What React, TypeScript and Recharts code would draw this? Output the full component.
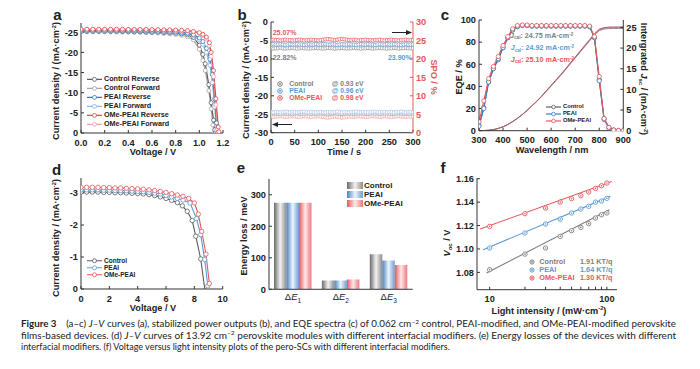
import React from 'react';
import { LineChart, Line, XAxis, YAxis, ComposedChart, Scatter, BarChart, Bar } from 'recharts';

const FONT = '"Liberation Sans", Arial, Helvetica, sans-serif';
const AX = '#333';
const TXT = '#222';
const GRAY_D = '#5e5e5e', GRAY_L = '#a8a8a8', BLUE_D = '#3a7bbf', BLUE_L = '#8ab8e2', RED_D = '#e5484b', RED_L = '#f3a2a3';
const GRAY = '#808080', BLUE = '#5b9bd5', RED = '#e8585a';
const MT = 8, HX = 22;

// ---------- Panel a: J-V curves ----------
const aVFlat = [0, 0.05, 0.1, 0.15, 0.2, 0.25, 0.3, 0.35, 0.4, 0.45, 0.5, 0.55, 0.6, 0.65, 0.7, 0.75, 0.8, 0.85];
const aCtrlRevJFlat = [25.2, 25.2, 25.2, 25.2, 25.2, 25.2, 25.2, 25.15, 25.15, 25.1, 25.1, 25.05, 25.0, 25.0, 24.9, 24.85, 24.75, 24.6];
const aCtrlRevVTail = [0.9, 0.95, 1.0, 1.03, 1.05, 1.08, 1.1, 1.12, 1.13, 1.135];
const aCtrlRevJTail = [24.4, 23.7, 21.8, 19.5, 17.2, 12.0, 7.5, 3.2, 0.8, 0];
const aCtrlFwdJFlat = [25.1, 25.1, 25.1, 25.1, 25.1, 25.1, 25.05, 25.05, 25.0, 25.0, 24.95, 24.9, 24.85, 24.8, 24.7, 24.6, 24.45, 24.25];
const aCtrlFwdVTail = [0.9, 0.95, 1.0, 1.03, 1.05, 1.08, 1.1, 1.115, 1.125];
const aCtrlFwdJTail = [23.9, 23.1, 20.8, 18.0, 15.5, 10.5, 6.0, 2.0, 0];
const aPeaiRevJFlat = [25.45, 25.45, 25.45, 25.45, 25.45, 25.45, 25.45, 25.4, 25.4, 25.4, 25.35, 25.35, 25.3, 25.3, 25.25, 25.2, 25.1, 25.0];
const aPeaiRevVTail = [0.9, 0.95, 1.0, 1.03, 1.06, 1.09, 1.11, 1.13, 1.145, 1.15];
const aPeaiRevJTail = [24.8, 24.4, 23.6, 22.7, 21.0, 18.3, 14.5, 8.5, 2.5, 0];
const aPeaiFwdJFlat = [25.4, 25.4, 25.4, 25.4, 25.4, 25.4, 25.35, 25.35, 25.35, 25.3, 25.3, 25.25, 25.2, 25.2, 25.1, 25.05, 24.95, 24.85];
const aPeaiFwdVTail = [0.9, 0.95, 1.0, 1.03, 1.06, 1.09, 1.11, 1.13, 1.145];
const aPeaiFwdJTail = [24.6, 24.1, 23.1, 22.0, 20.0, 16.8, 12.5, 6.5, 0.5];
const aOmeRevJFlat = [25.75, 25.75, 25.75, 25.75, 25.75, 25.75, 25.75, 25.75, 25.7, 25.7, 25.7, 25.7, 25.65, 25.65, 25.6, 25.6, 25.55, 25.5];
const aOmeRevVTail = [0.9, 0.95, 1.0, 1.03, 1.06, 1.085, 1.1, 1.12, 1.14, 1.16, 1.165];
const aOmeRevJTail = [25.4, 25.2, 24.9, 24.5, 23.8, 22.4, 20.0, 15.5, 8.5, 1.5, 0.3];
const aOmeFwdJFlat = [25.7, 25.7, 25.7, 25.7, 25.7, 25.7, 25.7, 25.7, 25.65, 25.65, 25.65, 25.6, 25.6, 25.55, 25.55, 25.5, 25.45, 25.4];
const aOmeFwdVTail = [0.9, 0.95, 1.0, 1.03, 1.06, 1.085, 1.1, 1.12, 1.14, 1.155];
const aOmeFwdJTail = [25.3, 25.1, 24.7, 24.2, 23.3, 21.7, 19.0, 14.0, 7.0, 1.0];
const aXTicks = [0, 0.2, 0.4, 0.6, 0.8, 1.0, 1.2];
const aYTicks = [-25, -20, -15, -10, -5, 0];

// ---------- Panel b: stabilized outputs ----------
const bTime = [0, 5, 10, 15, 20, 25, 30, 35, 40, 45, 50, 55, 60, 65, 70, 75, 80, 85, 90, 95, 100, 105, 110, 115, 120, 125, 130, 135, 140, 145, 150, 155, 160, 165, 170, 175, 180, 185, 190, 195, 200, 205, 210, 215, 220, 225, 230, 235, 240, 245, 250, 255, 260, 265, 270, 275, 280, 285, 290, 295, 300];
const bSpoOme = [25.1, 25.2, 25.1, 25.1, 25.0, 25.1, 25.2, 25.1, 25.1, 25.0, 25.1, 25.1, 25.2, 25.1, 25.0, 25.1, 25.1, 25.2, 25.1, 25.1, 25.0, 25.1, 25.2, 25.3, 25.4, 25.3, 25.2, 25.1, 25.2, 25.3, 25.4, 25.3, 25.2, 25.1, 25.1, 25.2, 25.1, 25.0, 25.1, 25.1, 25.2, 25.1, 25.1, 25.0, 25.1, 25.1, 25.2, 25.1, 25.0, 25.1, 25.1, 25.2, 25.1, 25.1, 25.0, 25.1, 25.1, 25.2, 25.1, 25.1, 25.1];
const bSpoPeai = [23.9, 24.0, 23.9, 23.9, 24.0, 23.9, 23.8, 23.9, 24.0, 23.9, 23.9, 24.0, 23.9, 23.9, 23.8, 23.9, 24.0, 23.9, 23.9, 24.0, 23.9, 23.9, 24.0, 24.0, 23.9, 23.9, 24.0, 23.9, 23.8, 23.9, 24.0, 23.9, 23.9, 24.0, 23.9, 23.9, 23.8, 23.9, 24.0, 23.9, 23.9, 24.0, 23.9, 23.9, 23.8, 23.9, 24.0, 23.9, 23.9, 24.0, 23.9, 23.9, 24.0, 23.9, 23.9, 23.8, 23.9, 24.0, 23.9, 23.9, 23.9];
const bSpoCtrl = [22.9, 22.8, 22.9, 22.9, 23.0, 22.9, 22.8, 22.9, 22.9, 23.0, 22.9, 22.8, 22.9, 23.0, 22.9, 22.9, 22.8, 22.9, 22.9, 23.0, 22.9, 22.9, 22.8, 22.9, 23.0, 22.9, 22.9, 22.8, 22.9, 22.9, 23.0, 22.9, 22.8, 22.9, 22.9, 23.0, 22.9, 22.9, 22.8, 22.9, 22.9, 23.0, 22.9, 22.8, 22.9, 22.9, 23.0, 22.9, 22.9, 22.8, 22.9, 22.9, 23.0, 22.9, 22.8, 22.9, 22.9, 23.0, 22.9, 22.9, 22.9];
const bJOme = [-25.6, -25.7, -25.6, -25.6, -25.5, -25.6, -25.7, -25.6, -25.6, -25.5, -25.6, -25.6, -25.7, -25.6, -25.5, -25.6, -25.6, -25.7, -25.6, -25.6, -25.5, -25.6, -25.7, -25.8, -25.9, -25.8, -25.7, -25.6, -25.7, -25.8, -25.9, -25.8, -25.7, -25.6, -25.6, -25.7, -25.6, -25.5, -25.6, -25.6, -25.7, -25.6, -25.6, -25.5, -25.6, -25.6, -25.7, -25.6, -25.5, -25.6, -25.6, -25.7, -25.6, -25.6, -25.5, -25.6, -25.6, -25.7, -25.6, -25.6, -25.6];
const bJPeai = [-24.4, -24.5, -24.4, -24.4, -24.5, -24.4, -24.3, -24.4, -24.5, -24.4, -24.4, -24.5, -24.4, -24.4, -24.3, -24.4, -24.5, -24.4, -24.4, -24.5, -24.4, -24.4, -24.5, -24.5, -24.4, -24.4, -24.5, -24.4, -24.3, -24.4, -24.5, -24.4, -24.4, -24.5, -24.4, -24.4, -24.3, -24.4, -24.5, -24.4, -24.4, -24.5, -24.4, -24.4, -24.3, -24.4, -24.5, -24.4, -24.4, -24.5, -24.4, -24.4, -24.5, -24.4, -24.4, -24.3, -24.4, -24.5, -24.4, -24.4, -24.4];
const bJCtrl = [-24.8, -24.7, -24.8, -24.8, -24.9, -24.8, -24.7, -24.8, -24.8, -24.9, -24.8, -24.7, -24.8, -24.9, -24.8, -24.8, -24.7, -24.8, -24.8, -24.9, -24.8, -24.8, -24.7, -24.8, -24.9, -24.8, -24.8, -24.7, -24.8, -24.8, -24.9, -24.8, -24.7, -24.8, -24.8, -24.9, -24.8, -24.8, -24.7, -24.8, -24.8, -24.9, -24.8, -24.7, -24.8, -24.8, -24.9, -24.8, -24.8, -24.7, -24.8, -24.8, -24.9, -24.8, -24.7, -24.8, -24.8, -24.9, -24.8, -24.8, -24.8];
const bXTicks = [0, 50, 100, 150, 200, 250, 300];
const bYTicks = [-30, -25, -20, -15, -10, -5, 0];
const bY2Ticks = [0, 5, 10, 15, 20, 25, 30];

// ---------- Panel c: EQE ----------
const cWave = [300, 320, 340, 360, 380, 400, 420, 440, 460, 480, 500, 520, 540, 560, 580, 600, 620, 640, 660, 680, 700, 720, 740, 760, 780, 800, 820, 840, 860, 880, 900];
const cEqeCtrl = [5, 21, 44, 56, 64, 75, 84, 91, 94, 95, 95, 94.5, 94.5, 94.5, 94.5, 94.5, 94.5, 94.5, 94.5, 94.5, 94.5, 94.5, 94.5, 94, 84, 46, 11, 3, 0.6, 0.2, 0];
const cEqePeai = [4, 20, 44, 56, 65, 75, 84, 91, 94, 95, 95, 94.5, 94.5, 94.5, 94.5, 94.5, 94.5, 94.5, 94.5, 94.5, 94.5, 94.5, 94.5, 94, 84, 45, 10, 2.5, 0.5, 0.2, 0];
const cEqeOme = [8, 27, 47, 58, 67, 77, 85, 92, 95, 95.5, 95.5, 95, 95, 95, 95, 95, 95, 95, 95, 95, 95, 95, 95, 94.5, 85, 49, 11, 3, 0.6, 0.2, 0];
const cJscCtrl = [0, 0.03, 0.1, 0.25, 0.55, 0.94, 1.49, 2.18, 2.98, 3.87, 4.87, 5.96, 7.05, 8.24, 9.53, 10.82, 12.11, 13.4, 14.8, 16.19, 17.58, 18.97, 20.36, 21.75, 23.14, 24.23, 24.62, 24.72, 24.75, 24.75, 24.75];
const cJscPeai = [0, 0.03, 0.1, 0.25, 0.55, 0.95, 1.5, 2.2, 3.0, 3.9, 4.9, 6.0, 7.1, 8.3, 9.6, 10.9, 12.2, 13.5, 14.9, 16.3, 17.7, 19.1, 20.5, 21.9, 23.3, 24.4, 24.8, 24.9, 24.92, 24.92, 24.92];
const cJscOme = [0, 0.03, 0.1, 0.25, 0.55, 0.96, 1.51, 2.22, 3.02, 3.93, 4.93, 6.04, 7.15, 8.36, 9.67, 10.98, 12.29, 13.6, 15.0, 16.41, 17.82, 19.23, 20.64, 22.05, 23.46, 24.57, 24.97, 25.07, 25.1, 25.1, 25.1];
const cXTicks = [300, 400, 500, 600, 700, 800, 900];
const cYTicks = [0, 20, 40, 60, 80, 100];
const cY2Ticks = [0, 5, 10, 15, 20, 25];

// ---------- Panel d: module J-V ----------
const dVFlat = [0, 0.4, 0.8, 1.2, 1.6, 2.0, 2.4, 2.8, 3.2, 3.6, 4.0, 4.4, 4.8, 5.2, 5.6, 6.0, 6.4, 6.8];
const dCtrlJFlat = [3.03, 3.03, 3.03, 3.03, 3.02, 3.02, 3.01, 3.01, 3.0, 2.99, 2.98, 2.97, 2.95, 2.92, 2.88, 2.83, 2.77, 2.7];
const dCtrlVTail = [7.15, 7.5, 7.85, 8.1, 8.45, 8.75];
const dCtrlJTail = [2.6, 2.43, 2.14, 1.65, 0.94, -0.05];
const dPeaiJFlat = [3.1, 3.1, 3.1, 3.1, 3.09, 3.09, 3.08, 3.08, 3.07, 3.06, 3.05, 3.04, 3.02, 3.0, 2.97, 2.93, 2.88, 2.83];
const dPeaiVTail = [7.2, 7.7, 8.15, 8.45, 8.73, 8.95];
const dPeaiJTail = [2.78, 2.69, 2.2, 1.7, 0.92, 0.1];
const dOmeJFlat = [3.18, 3.18, 3.18, 3.18, 3.17, 3.17, 3.16, 3.16, 3.15, 3.14, 3.13, 3.12, 3.1, 3.08, 3.05, 3.02, 2.98, 2.94];
const dOmeVTail = [7.2, 7.6, 8.0, 8.28, 8.52, 8.82, 9.06];
const dOmeJTail = [2.9, 2.83, 2.69, 2.34, 1.8, 1.09, 0.17];
const dXTicks = [0, 2, 4, 6, 8, 10];
const dYTicks = [-3, -2, -1, 0];

// ---------- Panel e: energy losses ----------
const eCats = ['1', '2', '3'];
const eCtrl = [275, 28, 111];
const ePeai = [275, 28, 91];
const eOme = [275, 31, 77];
const eYTicks = [0, 100, 200, 300];

// ---------- Panel f: Voc vs light intensity ----------
const fIntensity = [10, 20, 30, 40, 50, 60, 70, 80, 90, 100];
const fCtrl = [1.0823, 1.0956, 1.1008, 1.1107, 1.1156, 1.1184, 1.1216, 1.1264, 1.1292, 1.1307];
const fPeai = [1.1008, 1.1136, 1.1213, 1.1255, 1.1307, 1.1341, 1.1364, 1.14, 1.1409, 1.1432];
const fOme = [1.1193, 1.1301, 1.1349, 1.14, 1.1429, 1.1455, 1.1486, 1.1517, 1.154, 1.1563];
const fCtrlFitX = [9.4, 105];
const fCtrlFitY = [1.0795, 1.1335];
const fPeaiFitX = [8.8, 106.7];
const fPeaiFitY = [1.0994, 1.1449];
const fOmeFitX = [8.3, 110];
const fOmeFitY = [1.117, 1.1577];
const fXTicks = [10, 20, 30, 40, 50, 60, 70, 80, 90, 100];
const fYTicks = [1.08, 1.1, 1.12, 1.14, 1.16];

// ---------- helpers ----------
const tickStyle = { fontSize: 9.2, fontWeight: 700, fill: TXT, fontFamily: FONT };
const xAxisCommon = { axisLine: { stroke: AX }, tickLine: { stroke: AX }, tickSize: -3, tickMargin: 9, tick: tickStyle, height: HX, interval: 0 as const, allowDataOverflow: true };
const yAxisCommon = { axisLine: { stroke: AX }, tickLine: { stroke: AX }, tickSize: -3, tickMargin: 6, tick: tickStyle, interval: 0 as const, allowDataOverflow: true };

const frameX = () => (
  <XAxis xAxisId="fx" orientation="top" type="number" domain={[0, 1]} height={0} tick={false} tickLine={false} axisLine={{ stroke: AX }} />
);
const frameY = () => (
  <YAxis yAxisId="fy" orientation="right" type="number" domain={[0, 1]} width={0} tick={false} tickLine={false} axisLine={{ stroke: AX }} />
);

function box(x0: number, y0: number, x1: number, y1: number, wl: number, wr: number, mr: number) {
  return { left: x0 - wl, top: y0 - MT, width: wl + (x1 - x0) + wr + mr, height: MT + (y1 - y0) + HX, mr };
}

const zip = (xs: number[], ys: number[], sign = 1) => xs.map((x, i) => ({ x, y: sign * ys[i] }));

function Sup({ children }: any) {
  return <span style={{ fontSize: '0.62em', position: 'relative', top: '-0.55em' }}>{children}</span>;
}
function Sub({ children }: any) {
  return <span style={{ fontSize: '0.65em', position: 'relative', top: '0.3em' }}>{children}</span>;
}

function T({ x, y, rot = 0, size = 9.5, bold = true, color = TXT, anchor = 'c', children, font = FONT, lh = 1 }: any) {
  const tx = anchor === 'c' ? '-50%' : anchor === 'l' ? '0%' : '-100%';
  return (
    <div style={{ position: 'absolute', left: x, top: y, transform: `translate(${tx},-50%) rotate(${rot}deg)`, whiteSpace: 'nowrap', fontFamily: font, fontSize: size, fontWeight: bold ? 700 : 400, color, lineHeight: lh }}>
      {children}
    </div>
  );
}

function LegLine({ x, y, color, text, size, w = 15, r = 2 }: any) {
  return (
    <div style={{ position: 'absolute', left: x, top: y, transform: 'translateY(-50%)', display: 'flex', alignItems: 'center', whiteSpace: 'nowrap', fontFamily: FONT, fontWeight: 700, fontSize: size, lineHeight: 1, color: TXT }}>
      <svg width={w} height={6} style={{ display: 'block' }}>
        <line x1={0} y1={3} x2={w} y2={3} stroke={color} strokeWidth={1.2} />
        <circle cx={w / 2} cy={3} r={r} fill="#fff" stroke={color} strokeWidth={0.8} />
      </svg>
      <span style={{ marginLeft: 2 }}>{text}</span>
    </div>
  );
}

function Dot({ x, y, color, r = 2.3 }: any) {
  return (
    <svg width={8} height={8} style={{ position: 'absolute', left: x - 4, top: y - 4 }}>
      <circle cx={4} cy={4} r={r} fill="#fff" stroke={color} strokeWidth={1} />
      <circle cx={4} cy={4} r={0.9} fill={color} />
    </svg>
  );
}

const dotStyle = (c: string, r = 2) => ({ r, fill: '#fff', stroke: c, strokeWidth: 0.8 });

// ---------- panels ----------
function PanelA() {
  const b = box(81, 23, 223, 133, 30, 0, 12);
  const series = [
    { c: GRAY_L, d: zip([...aVFlat, ...aCtrlFwdVTail], [...aCtrlFwdJFlat, ...aCtrlFwdJTail], -1) },
    { c: GRAY_D, d: zip([...aVFlat, ...aCtrlRevVTail], [...aCtrlRevJFlat, ...aCtrlRevJTail], -1) },
    { c: BLUE_L, d: zip([...aVFlat, ...aPeaiFwdVTail], [...aPeaiFwdJFlat, ...aPeaiFwdJTail], -1) },
    { c: BLUE_D, d: zip([...aVFlat, ...aPeaiRevVTail], [...aPeaiRevJFlat, ...aPeaiRevJTail], -1) },
    { c: RED_L, d: zip([...aVFlat, ...aOmeFwdVTail], [...aOmeFwdJFlat, ...aOmeFwdJTail], -1) },
    { c: RED_D, d: zip([...aVFlat, ...aOmeRevVTail], [...aOmeRevJFlat, ...aOmeRevJTail], -1) },
  ];
  return (
    <div style={{ position: 'absolute', left: b.left, top: b.top }}>
      <LineChart width={b.width} height={b.height} margin={{ top: MT, right: b.mr, bottom: 0, left: 0 }}>
        <XAxis dataKey="x" type="number" domain={[0, 1.2]} ticks={aXTicks} tickFormatter={(v: number) => v.toFixed(1)} {...xAxisCommon} />
        <YAxis dataKey="y" type="number" domain={[-27.3, 0]} reversed ticks={aYTicks} width={30} {...yAxisCommon} />
        {frameX()}
        {frameY()}
        {series.map((s, i) => (
          <Line key={i} data={s.d} dataKey="y" stroke={s.c} strokeWidth={1.2} dot={dotStyle(s.c)} activeDot={false} isAnimationActive={false} />
        ))}
      </LineChart>
    </div>
  );
}

function PanelB() {
  const b = box(270.7, 22, 412.7, 132.7, 30, 22, 3);
  const mk = (ys: number[]) => bTime.map((t, i) => ({ x: t, y: ys[i] }));
  const cur = [
    { c: '#f1a9aa', d: mk(bJOme) },
    { c: '#b3b3b3', d: mk(bJCtrl) },
    { c: '#a9cbeb', d: mk(bJPeai) },
  ];
  const spo = [
    { c: '#9a9a9a', d: mk(bSpoCtrl) },
    { c: '#74a7d8', d: mk(bSpoPeai) },
    { c: '#e8686a', d: mk(bSpoOme) },
  ];
  return (
    <div style={{ position: 'absolute', left: b.left, top: b.top }}>
      <LineChart width={b.width} height={b.height} margin={{ top: MT, right: b.mr, bottom: 0, left: 0 }}>
        <XAxis dataKey="x" type="number" domain={[0, 300]} ticks={bXTicks} {...xAxisCommon} />
        <YAxis yAxisId="l" dataKey="y" type="number" domain={[-30, 0]} ticks={bYTicks} width={30} {...yAxisCommon} />
        <YAxis yAxisId="r" orientation="right" dataKey="y" type="number" domain={[0, 30]} ticks={bY2Ticks} width={22} {...yAxisCommon} axisLine={{ stroke: RED }} tickLine={{ stroke: RED }} tick={{ ...tickStyle, fill: RED }} />
        {frameX()}
        {cur.map((s, i) => (
          <Line key={'c' + i} yAxisId="l" data={s.d} dataKey="y" stroke={s.c} strokeWidth={0.6} dot={dotStyle(s.c, 1.8)} activeDot={false} isAnimationActive={false} />
        ))}
        {spo.map((s, i) => (
          <Line key={'s' + i} yAxisId="r" data={s.d} dataKey="y" stroke={s.c} strokeWidth={0.6} dot={dotStyle(s.c, 1.8)} activeDot={false} isAnimationActive={false} />
        ))}
      </LineChart>
    </div>
  );
}

function PanelC() {
  const b = box(479, 20, 623.3, 130.7, 28, 22, 3);
  const mk = (ys: number[]) => cWave.map((w, i) => ({ x: w, y: ys[i] }));
  const eqe = [
    { c: GRAY_D, d: mk(cEqeCtrl) },
    { c: BLUE_D, d: mk(cEqePeai) },
    { c: RED, d: mk(cEqeOme) },
  ];
  const jsc = [
    { c: '#9a8f90', d: mk(cJscCtrl) },
    { c: '#8f8aa6', d: mk(cJscPeai) },
    { c: '#c0555a', d: mk(cJscOme) },
  ];
  return (
    <div style={{ position: 'absolute', left: b.left, top: b.top }}>
      <LineChart width={b.width} height={b.height} margin={{ top: MT, right: b.mr, bottom: 0, left: 0 }}>
        <XAxis dataKey="x" type="number" domain={[300, 900]} ticks={cXTicks} {...xAxisCommon} />
        <YAxis yAxisId="l" dataKey="y" type="number" domain={[0, 100]} ticks={cYTicks} width={28} {...yAxisCommon} />
        <YAxis yAxisId="r" orientation="right" dataKey="y" type="number" domain={[0, 26.8]} ticks={cY2Ticks} width={22} {...yAxisCommon} />
        {frameX()}
        {jsc.map((s, i) => (
          <Line key={'j' + i} yAxisId="r" data={s.d} dataKey="y" stroke={s.c} strokeWidth={1} dot={false} activeDot={false} isAnimationActive={false} />
        ))}
        {eqe.map((s, i) => (
          <Line key={'e' + i} yAxisId="l" data={s.d} dataKey="y" stroke={s.c} strokeWidth={1.1} dot={dotStyle(s.c, 2.1)} activeDot={false} isAnimationActive={false} />
        ))}
      </LineChart>
    </div>
  );
}

function PanelD() {
  const b = box(81, 178.3, 222.7, 289.3, 30, 0, 12);
  const series = [
    { c: GRAY_D, d: zip([...dVFlat, ...dCtrlVTail], [...dCtrlJFlat, ...dCtrlJTail], -1) },
    { c: BLUE, d: zip([...dVFlat, ...dPeaiVTail], [...dPeaiJFlat, ...dPeaiJTail], -1) },
    { c: RED, d: zip([...dVFlat, ...dOmeVTail], [...dOmeJFlat, ...dOmeJTail], -1) },
  ];
  return (
    <div style={{ position: 'absolute', left: b.left, top: b.top }}>
      <LineChart width={b.width} height={b.height} margin={{ top: MT, right: b.mr, bottom: 0, left: 0 }}>
        <XAxis dataKey="x" type="number" domain={[0, 10]} ticks={dXTicks} {...xAxisCommon} />
        <YAxis dataKey="y" type="number" domain={[-3.47, 0]} reversed ticks={dYTicks} width={30} {...yAxisCommon} />
        {frameX()}
        {frameY()}
        {series.map((s, i) => (
          <Line key={i} data={s.d} dataKey="y" stroke={s.c} strokeWidth={1.1} dot={dotStyle(s.c, 2.2)} activeDot={false} isAnimationActive={false} />
        ))}
      </LineChart>
    </div>
  );
}

const DeltaTick = (props: any) => {
  const { x, y, payload } = props;
  return (
    <text x={x} y={y + 11} textAnchor="middle" fontFamily={FONT} fontSize={9.5} fill={TXT}>
      <tspan>Δ</tspan>
      <tspan fontStyle="italic">E</tspan>
      <tspan fontSize={6.5} dy={2.5}>{payload.value}</tspan>
    </text>
  );
};

function PanelE() {
  const b = box(269, 179, 412.7, 289.3, 30, 0, 6);
  const data = eCats.map((n, i) => ({ name: n, c: eCtrl[i], p: ePeai[i], o: eOme[i] }));
  return (
    <div style={{ position: 'absolute', left: b.left, top: b.top }}>
      <BarChart width={b.width} height={b.height} data={data} margin={{ top: MT, right: b.mr, bottom: 0, left: 0 }} barGap={0} barSize={12.5}>
        <defs>
          <linearGradient id="gC" x1="0" y1="0" x2="1" y2="0">
            <stop offset="0" stopColor="#6a6a6a" />
            <stop offset="0.5" stopColor="#f2f2f2" />
            <stop offset="1" stopColor="#8c8c8c" />
          </linearGradient>
          <linearGradient id="gP" x1="0" y1="0" x2="1" y2="0">
            <stop offset="0" stopColor="#4a83c0" />
            <stop offset="0.5" stopColor="#eef4fb" />
            <stop offset="1" stopColor="#6e9dd2" />
          </linearGradient>
          <linearGradient id="gO" x1="0" y1="0" x2="1" y2="0">
            <stop offset="0" stopColor="#e4585b" />
            <stop offset="0.5" stopColor="#fde8e8" />
            <stop offset="1" stopColor="#ec7b7d" />
          </linearGradient>
        </defs>
        <XAxis dataKey="name" axisLine={{ stroke: AX }} tickLine={false} tickSize={0} tickMargin={0} height={HX} tick={<DeltaTick />} interval={0} />
        <YAxis type="number" domain={[0, 350]} ticks={eYTicks} width={30} {...yAxisCommon} />
        {frameX()}
        {frameY()}
        <Bar dataKey="c" fill="url(#gC)" isAnimationActive={false} />
        <Bar dataKey="p" fill="url(#gP)" isAnimationActive={false} />
        <Bar dataKey="o" fill="url(#gO)" isAnimationActive={false} />
      </BarChart>
    </div>
  );
}

function PanelF() {
  const b = box(476.7, 178.3, 616.7, 290, 30, 0, 12);
  const pts = [
    { c: GRAY, d: zip(fIntensity, fCtrl), fit: zip(fCtrlFitX, fCtrlFitY) },
    { c: BLUE, d: zip(fIntensity, fPeai), fit: zip(fPeaiFitX, fPeaiFitY) },
    { c: RED, d: zip(fIntensity, fOme), fit: zip(fOmeFitX, fOmeFitY) },
  ];
  const shape = (c: string) => (p: any) => (
    <g>
      <circle cx={p.cx} cy={p.cy} r={2.2} fill="#fff" stroke={c} strokeWidth={0.9} />
      <circle cx={p.cx} cy={p.cy} r={0.8} fill={c} />
    </g>
  );
  return (
    <div style={{ position: 'absolute', left: b.left, top: b.top }}>
      <ComposedChart width={b.width} height={b.height} margin={{ top: MT, right: b.mr, bottom: 0, left: 0 }}>
        <XAxis dataKey="x" type="number" scale="log" domain={[7.8, 122]} ticks={fXTicks} tickFormatter={(v: number) => (v === 10 || v === 100 ? String(v) : '')} {...xAxisCommon} />
        <YAxis dataKey="y" type="number" domain={[1.0652, 1.1606]} ticks={fYTicks} tickFormatter={(v: number) => v.toFixed(2)} width={30} {...yAxisCommon} />
        {frameX()}
        {frameY()}
        {pts.map((s, i) => (
          <Line key={'l' + i} data={s.fit} dataKey="y" stroke={s.c} strokeWidth={1.1} dot={false} activeDot={false} isAnimationActive={false} />
        ))}
        {pts.map((s, i) => (
          <Scatter key={'s' + i} data={s.d} dataKey="y" fill={s.c} shape={shape(s.c)} isAnimationActive={false} />
        ))}
      </ComposedChart>
    </div>
  );
}

function Arrow({ x, y, dir }: any) {
  return (
    <svg width={20} height={7} style={{ position: 'absolute', left: x, top: y - 3.5 }}>
      {dir === 'r' ? (
        <g><line x1={0} y1={3.5} x2={15} y2={3.5} stroke="#222" strokeWidth={1} /><polygon points="20,3.5 14,1 14,6" fill="#222" /></g>
      ) : (
        <g><line x1={5} y1={3.5} x2={20} y2={3.5} stroke="#222" strokeWidth={1} /><polygon points="0,3.5 6,1 6,6" fill="#222" /></g>
      )}
    </svg>
  );
}

function GradSwatch({ x, y, c1, c2, c3 }: any) {
  return <div style={{ position: 'absolute', left: x, top: y - 3.5, width: 16, height: 7, background: `linear-gradient(to right, ${c1}, ${c2}, ${c3})` }} />;
}

export default function App() {
  const L = 9.2;
  return (
    <div style={{ position: 'absolute', left: 0, top: 0, width: 700, height: 369, background: '#fff', overflow: 'hidden' }}>
      <PanelA />
      <PanelB />
      <PanelC />
      <PanelD />
      <PanelE />
      <PanelF />

      {/* panel letters */}
      <T x={57.5} y={15} size={15} lh={0.75}>a</T>
      <T x={242} y={15} size={15} lh={0.75}>b</T>
      <T x={445} y={15} size={15} lh={0.75}>c</T>
      <T x={56.7} y={169.5} size={15} lh={0.75}>d</T>
      <T x={240.8} y={168} size={15} lh={0.75}>e</T>
      <T x={443} y={167.5} size={15} lh={0.75}>f</T>

      {/* axis titles */}
      <T x={57} y={81} rot={-90} size={L}>Current density / (mA·cm<Sup>-2</Sup>)</T>
      <T x={153} y={152.5} size={L}>Voltage / V</T>
      <T x={246.7} y={80} rot={-90} size={L}>Current density / (mA·cm<Sup>-2</Sup>)</T>
      <T x={433} y={77} rot={90} size={L} color={RED}>SPO / %</T>
      <T x={344} y={152.5} size={L}>Time / s</T>
      <T x={460} y={77} rot={-90} size={L}>EQE / %</T>
      <T x={643} y={79} rot={90} size={L}>Intergrated <i>J</i><Sub>sc</Sub> / (mA·cm<Sup>-2</Sup>)</T>
      <T x={552} y={150.5} size={L}>Wavelength / nm</T>
      <T x={57} y={238} rot={-90} size={L}>Current density / (mA·cm<Sup>-2</Sup>)</T>
      <T x={153} y={309} size={L}>Voltage / V</T>
      <T x={245} y={236} rot={-90} size={L}>Energy loss / meV</T>
      <T x={448.3} y={243} rot={-90} size={L}><i>V</i><Sub>oc</Sub> / V</T>
      <T x={549} y={311.5} size={L}>Light intensity / (mW·cm<Sup>-2</Sup>)</T>

      {/* legend a */}
      <LegLine x={87} y={79} color={GRAY_D} text="Control Reverse" size={7.2} />
      <LegLine x={87} y={88} color={GRAY_L} text="Control Forward" size={7.2} />
      <LegLine x={87} y={97} color={BLUE_D} text="PEAI Reverse" size={7.2} />
      <LegLine x={87} y={106} color={BLUE_L} text="PEAI Forward" size={7.2} />
      <LegLine x={87} y={115} color={RED_D} text="OMe-PEAI Reverse" size={7.2} />
      <LegLine x={87} y={124} color={RED_L} text="OMe-PEAI Forward" size={7.2} />

      {/* panel b annotations */}
      <T x={272.7} y={32.3} size={7} color={RED} anchor="l">25.07%</T>
      <T x={272.7} y={56.7} size={7} color={GRAY} anchor="l">22.82%</T>
      <T x={411.7} y={56.7} size={7} color={BLUE} anchor="r">23.90%</T>
      <Arrow x={392} y={32.3} dir="r" />
      <Arrow x={272} y={124} dir="l" />
      <Dot x={280} y={83.8} color={GRAY} />
      <Dot x={280} y={91} color={BLUE} />
      <Dot x={280} y={98.2} color={RED} />
      <T x={289.3} y={83.8} size={6.8} color={GRAY} anchor="l">Control</T>
      <T x={289.3} y={91} size={6.8} color={BLUE} anchor="l">PEAI</T>
      <T x={289.3} y={98.2} size={6.8} color={RED} anchor="l">OMe-PEAI</T>
      <T x={331.7} y={83.8} size={6.8} color={GRAY} anchor="l">@ 0.93 eV</T>
      <T x={331.7} y={91} size={6.8} color={BLUE} anchor="l">@ 0.96 eV</T>
      <T x={331.7} y={98.2} size={6.8} color={RED} anchor="l">@ 0.98 eV</T>

      {/* panel c annotations and legend */}
      <T x={510} y={36} size={7.2} color={GRAY} anchor="l"><i>J</i><Sub>cal</Sub>: 24.75 mA·cm<Sup>-2</Sup></T>
      <T x={510.7} y={48.3} size={7.2} color={BLUE} anchor="l"><i>J</i><Sub>cal</Sub>: 24.92 mA·cm<Sup>-2</Sup></T>
      <T x={510.7} y={60} size={7.2} color={RED} anchor="l"><i>J</i><Sub>cal</Sub>: 25.10 mA·cm<Sup>-2</Sup></T>
      <LegLine x={546} y={107.3} color={GRAY_D} text="Control" size={5.8} w={15} r={1.8} />
      <LegLine x={546} y={114} color={BLUE_D} text="PEAI" size={5.8} w={15} r={1.8} />
      <LegLine x={546} y={120.7} color={RED} text="OMe-PEAI" size={5.8} w={15} r={1.8} />

      {/* legend d */}
      <LegLine x={87} y={261} color={GRAY_D} text="Control" size={6.5} />
      <LegLine x={87} y={267.8} color={BLUE} text="PEAI" size={6.5} />
      <LegLine x={87} y={274.6} color={RED} text="OMe-PEAI" size={6.5} />

      {/* legend e */}
      <GradSwatch x={347} y={185.7} c1="#6a6a6a" c2="#f2f2f2" c3="#8c8c8c" />
      <GradSwatch x={347} y={194.7} c1="#4a83c0" c2="#eef4fb" c3="#6e9dd2" />
      <GradSwatch x={347} y={203.7} c1="#e4585b" c2="#fde8e8" c3="#ec7b7d" />
      <T x={364} y={185.7} size={8} anchor="l">Control</T>
      <T x={364} y={194.7} size={8} anchor="l">PEAI</T>
      <T x={364} y={203.7} size={8} anchor="l">OMe-PEAI</T>

      {/* legend f */}
      <Dot x={531.7} y={262.3} color={GRAY} r={2.1} />
      <Dot x={531.7} y={270} color={BLUE} r={2.1} />
      <Dot x={531.7} y={277.7} color={RED} r={2.1} />
      <T x={539.3} y={262.3} size={7.3} color={GRAY} anchor="l">Control</T>
      <T x={539.3} y={270} size={7.3} color={BLUE} anchor="l">PEAI</T>
      <T x={539.3} y={277.7} size={7.3} color={RED} anchor="l">OMe-PEAI</T>
      <T x={580} y={262.3} size={7.3} color={GRAY} anchor="l">1.91 KT/q</T>
      <T x={580} y={270} size={7.3} color={BLUE} anchor="l">1.64 KT/q</T>
      <T x={580} y={277.7} size={7.3} color={RED} anchor="l">1.30 KT/q</T>

      {/* caption */}
      <svg width={700} height={52} style={{ position: 'absolute', left: 0, top: 314 }} fontFamily="Lato, 'Open Sans', sans-serif" fontSize={9} fill="#222">
        <text x={21} y={13} textLength={655} lengthAdjust="spacingAndGlyphs">
          <tspan fontWeight={700}>Figure 3</tspan>
          <tspan dx={9}>(a–c) </tspan>
          <tspan fontStyle="italic">J–V</tspan>
          <tspan> curves (a), stabilized power outputs (b), and EQE spectra (c) of 0.062 cm</tspan>
          <tspan fontSize={6} dy={-3.5}>−2</tspan>
          <tspan dy={3.5}> control, PEAI-modified, and OMe-PEAI-modified perovskite</tspan>
        </text>
        <text x={21} y={24.5} textLength={655} lengthAdjust="spacingAndGlyphs">
          <tspan>films-based devices. (d) </tspan>
          <tspan fontStyle="italic">J–V</tspan>
          <tspan> curves of 13.92 cm</tspan>
          <tspan fontSize={6} dy={-3.5}>−2</tspan>
          <tspan dy={3.5}> perovskite modules with different interfacial modifiers. (e) Energy losses of the devices with different</tspan>
        </text>
        <text x={21} y={36}>
          interfacial modifiers. (f) Voltage versus light intensity plots of the pero-SCs with different interfacial modifiers.
        </text>
      </svg>
    </div>
  );
}
